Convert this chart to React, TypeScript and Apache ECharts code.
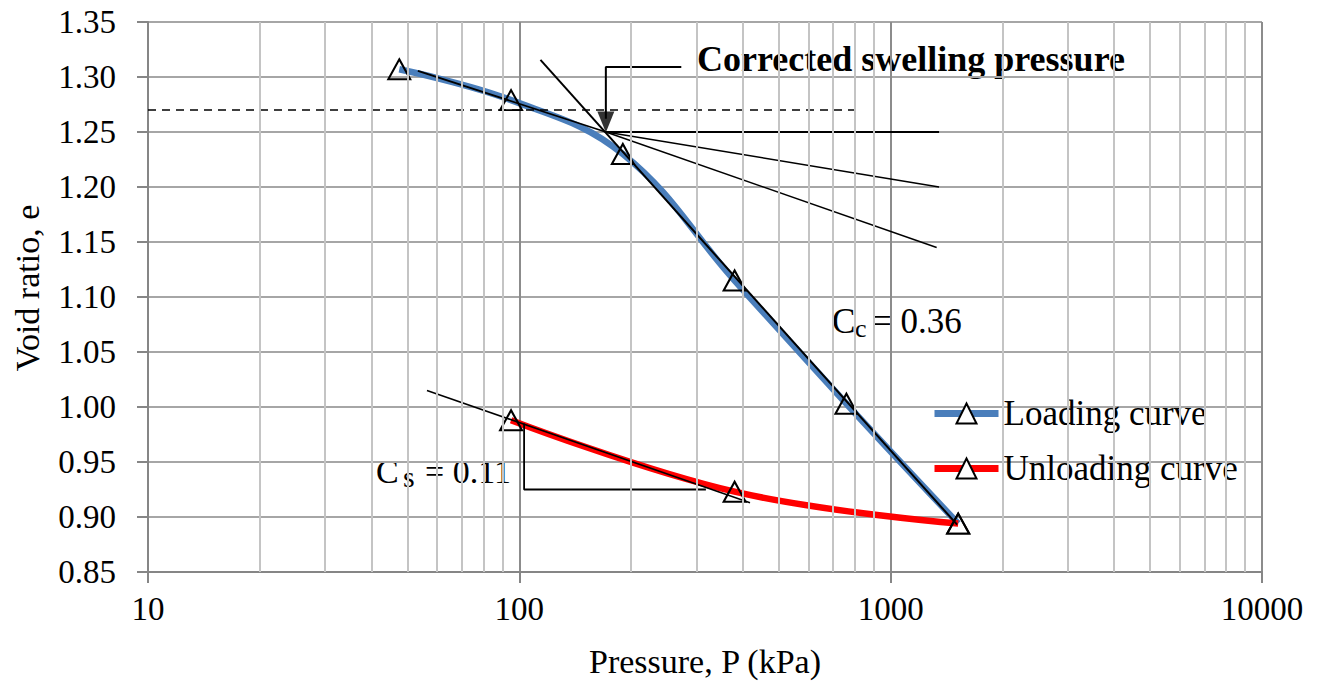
import React, { useEffect, useRef } from "react";
import * as echarts from "echarts";

// Oedometer test results: void ratio against pressure (kPa)
const loadingPressure = [47.5, 95, 190, 380, 760, 1520];
const loadingVoidRatio = [1.307, 1.279, 1.23, 1.115, 1.003, 0.894];

const unloadingPressure = [1520, 380, 95];
const unloadingVoidRatio = [0.894, 0.923, 0.988];

// Graphical construction for the corrected swelling pressure
const initialTangent = [[53.3, 1.3056], [171, 1.25]];
const virginLine = [[114, 1.3155], [1510, 0.893]];
const horizontalLine = [[171, 1.25], [1350, 1.25]];
const bisectorLine = [[171, 1.25], [1350, 1.2]];
const curvatureTangent = [[171, 1.25], [1330, 1.145]];
const referenceLine = [[10, 1.27], [824, 1.27]];
const arrowShaft = [[273, 1.309], [171, 1.309], [171, 1.262]];
const arrowHead = [[171, 1.2592]];

// Swelling index construction
const swellingLine = [[56.4, 1.015], [418, 0.913]];
const swellingTriangle = [[103, 0.985], [103, 0.925], [318, 0.925]];

// Axis ranges
const pressureMin = 10;
const pressureMax = 10000;
const voidMin = 0.85;
const voidMax = 1.35;
const voidStep = 0.05;

const FONT = "Liberation Serif, Times New Roman, serif";

// Intermediate log-decade gridlines (2..9 within each decade)
const minorGrid: number[] = [];
for (let d = pressureMin; d < pressureMax; d *= 10) {
  for (let k = 2; k <= 9; k++) minorGrid.push(k * d);
}

const zip = (xs: number[], ys: number[]) => xs.map((x, i) => [x, ys[i]]);

const construction = (data: number[][], width = 1.5, type: any = "solid") => ({
  type: "line",
  data,
  symbol: "none",
  silent: true,
  z: 4,
  lineStyle: { color: "#000", width, type },
});

const label = (x: number, y: number, text: string, size: number, weight = "normal") => ({
  type: "text",
  x,
  y,
  style: {
    text,
    fontFamily: FONT,
    fontSize: size,
    fontWeight: weight,
    fill: "#000",
    verticalAlign: "middle",
  },
});

export default function App() {
  const ref = useRef<HTMLDivElement>(null);

  useEffect(() => {
    if (!ref.current) return;
    const chart = echarts.init(ref.current, undefined, { renderer: "svg" });

    const marker = {
      symbol: "triangle",
      symbolSize: [22, 20],
      itemStyle: { color: "transparent", borderColor: "#000", borderWidth: 2 },
    };

    chart.setOption({
      animation: false,
      backgroundColor: "#fff",
      grid: { left: 148, right: 58, top: 22, bottom: 109, containLabel: false },
      xAxis: {
        type: "log",
        logBase: 10,
        min: pressureMin,
        max: pressureMax,
        name: "Pressure, P (kPa)",
        nameLocation: "middle",
        nameGap: 72,
        nameTextStyle: { fontFamily: FONT, fontSize: 34, color: "#000" },
        axisLine: { show: true, onZero: false, lineStyle: { color: "#868686", width: 2 } },
        axisTick: { show: true, length: 11, lineStyle: { color: "#868686", width: 2 } },
        axisLabel: {
          fontFamily: FONT,
          fontSize: 33,
          color: "#000",
          margin: 20,
          formatter: (v: number) => String(Math.round(v)),
        },
        splitLine: { show: true, lineStyle: { color: "#8c8c8c", width: 2 } },
        minorTick: { show: false },
      },
      yAxis: {
        type: "value",
        min: voidMin,
        max: voidMax,
        interval: voidStep,
        name: "Void ratio, e",
        nameLocation: "middle",
        nameGap: 104,
        nameRotate: 90,
        nameTextStyle: { fontFamily: FONT, fontSize: 34, color: "#000", padding: [0, 0, 0, 18] },
        axisLine: { show: true, lineStyle: { color: "#868686", width: 2 } },
        axisTick: { show: true, length: 11, lineStyle: { color: "#868686", width: 2 } },
        axisLabel: {
          fontFamily: FONT,
          fontSize: 33,
          color: "#000",
          margin: 32,
          formatter: (v: number) => v.toFixed(2),
        },
        splitLine: { show: true, lineStyle: { color: "#a6a6a6", width: 2 } },
      },
      legend: {
        data: ["Loading curve", "Unloading curve"],
        orient: "vertical",
        left: 926,
        top: 391,
        itemWidth: 64,
        itemHeight: 25,
        itemGap: 20,
        textStyle: { fontFamily: FONT, fontSize: 35, color: "#000" },
        itemStyle: { color: "#fff", borderColor: "#000", borderWidth: 2 },
        lineStyle: { width: 7 },
      },
      series: [
        {
          type: "line",
          data: [],
          silent: true,
          z: 1,
          markLine: {
            silent: true,
            symbol: "none",
            label: { show: false },
            lineStyle: { color: "#c4c4c4", width: 2, type: "solid" },
            data: minorGrid.map((v) => ({ xAxis: v })),
          },
        },
        {
          name: "Loading curve",
          type: "line",
          data: zip(loadingPressure, loadingVoidRatio),
          smooth: 0.4,
          z: 3,
          lineStyle: { color: "#4a7ebb", width: 6.5 },
          ...marker,
        },
        {
          name: "Unloading curve",
          type: "line",
          data: zip(unloadingPressure, unloadingVoidRatio),
          smooth: 0.4,
          z: 3,
          lineStyle: { color: "#ff0000", width: 6.5 },
          ...marker,
        },
        construction(initialTangent, 1.8),
        construction(virginLine, 2),
        construction(horizontalLine, 1.8),
        construction(bisectorLine, 1.5),
        construction(curvatureTangent, 1.5),
        construction(referenceLine, 1.5, [8, 6]),
        construction(arrowShaft, 2),
        construction(swellingLine, 1.5),
        construction(swellingTriangle, 1.8),
        {
          type: "scatter",
          data: arrowHead,
          silent: true,
          z: 5,
          symbol: "path://M0,0 L17,0 L8.5,21 Z",
          symbolSize: [17, 21],
          itemStyle: { color: "#000" },
        },
      ],
      graphic: [
        label(697, 59, "Corrected swelling pressure", 36, "bold"),
        label(832, 321, "C", 35),
        label(855, 328, "c", 26),
        label(872, 321, "= 0.36", 35),
        label(376, 471, "C", 34),
        label(403, 476, "s", 30),
        label(425, 471, "= 0.11", 34),
      ],
    });

    return () => chart.dispose();
  }, []);

  return (
    <div
      ref={ref}
      style={{ position: "fixed", left: 0, top: 0, width: 1320, height: 683, background: "#fff" }}
    />
  );
}
